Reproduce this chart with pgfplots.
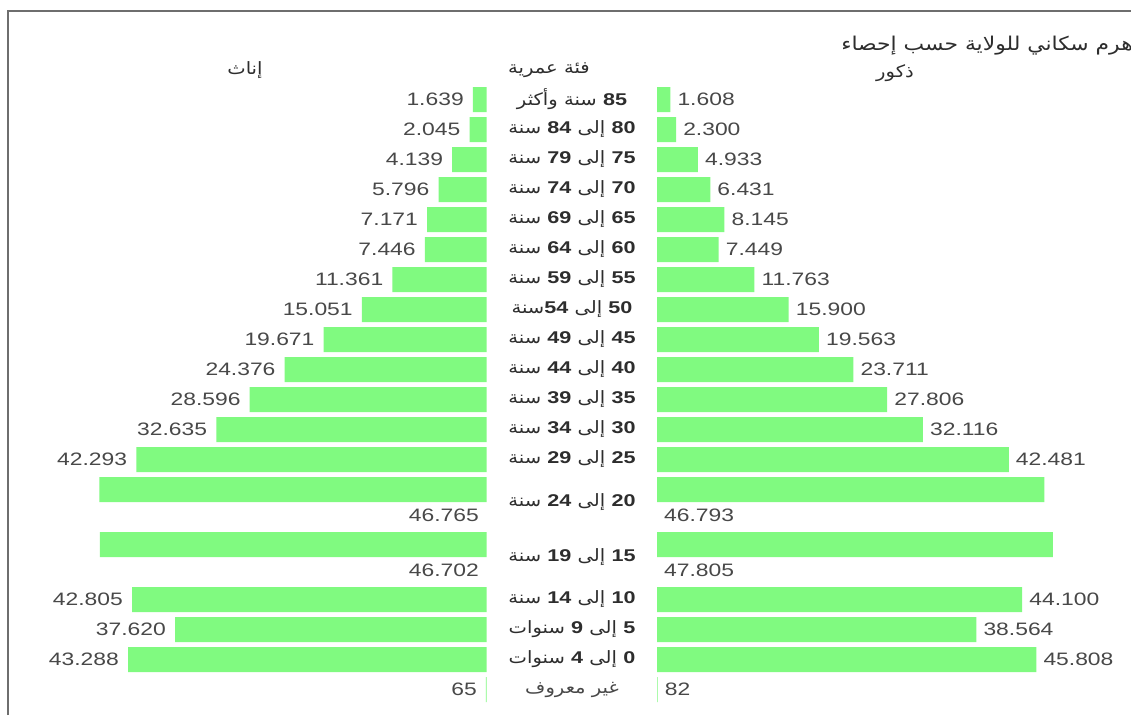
\documentclass[border=0pt]{standalone}
\usepackage{fontspec}
\setmainfont{Liberation Sans}[FakeStretch=1.27]
\newfontfamily\arabicfont[Script=Arabic, FakeStretch=1.15]{DejaVu Sans}
\TeXXeTstate=1
\usepackage{pgfplots}
\pgfplotsset{compat=1.18}
\definecolor{barg}{RGB}{128,250,128}
\definecolor{txt}{RGB}{72,72,72}
\definecolor{cat}{RGB}{45,45,45}
\definecolor{frame}{RGB}{110,110,110}
\newcommand{\ar}[1]{{\arabicfont\beginR #1\endR}}
\newcommand{\n}[1]{{\normalfont\bfseries #1}}
\newcommand{\valfont}{\fontsize{18}{18}\selectfont}
\pgfplotsset{
  valnodes/.style={
    nodes near coords={\pgfmathprintnumber[fixed,precision=0,1000 sep={.},assume math mode=true]{\pgfplotspointmeta}},
    every node near coord/.append style={inner sep=0pt, font=\valfont, text=txt}
  }
}
\begin{document}
\begin{tikzpicture}
\path[use as bounding box, fill=white] (0,0) rectangle (1131pt,715pt);
\draw[line width=2.5pt, frame] (8pt,0pt) -- (8pt,704pt) -- (1131pt,704pt);

% females
\begin{axis}[at={(486.5pt,715pt)}, anchor=north east, scale only axis,
  width=480.24pt, height=715pt, xmin=0, xmax=58000, ymin=0, ymax=715,
  x dir=reverse, y dir=reverse, hide axis, clip=false]
\addplot[xbar, bar shift=0pt, bar width=25, fill=barg, draw=none, point meta=x, valnodes,
  every node near coord/.append style={anchor=east, xshift=-9pt}]
  table[x index=0, y index=1] {
1639 99.5
2045 129.5
4139 159.5
5796 189.5
7171 219.5
7446 249.5
11361 279.5
15051 309.5
19671 339.5
24376 369.5
28596 399.5
32635 429.5
42293 459.5
42805 599.5
37620 629.5
43288 659.5
65 689.5
};
\addplot[xbar, bar shift=0pt, bar width=25, fill=barg, draw=none]
  table[x index=0, y index=1] {
46765 489.5
46702 544.5
};
\addplot[draw=none, point meta=explicit, valnodes,
  every node near coord/.append style={anchor=east, xshift=-7.5pt}]
  coordinates {(0,515) [46765] (0,570) [46702]};
\end{axis}

% males
\begin{axis}[at={(657pt,715pt)}, anchor=north west, scale only axis,
  width=474pt, height=715pt, xmin=0, xmax=57246, ymin=0, ymax=715,
  y dir=reverse, clip=false,
  axis line style={draw=none}, major tick style={draw=none}, xtick=\empty,
  ytick={99.5,129.5,159.5,189.5,219.5,249.5,279.5,309.5,339.5,369.5,399.5,429.5,459.5,502,557,599.5,629.5,659.5,689.5},
  yticklabels={
    {\ar{\n{85} سنة وأكثر}},
    {\ar{\n{80} إلى \n{84} سنة}},
    {\ar{\n{75} إلى \n{79} سنة}},
    {\ar{\n{70} إلى \n{74} سنة}},
    {\ar{\n{65} إلى \n{69} سنة}},
    {\ar{\n{60} إلى \n{64} سنة}},
    {\ar{\n{55} إلى \n{59} سنة}},
    {\ar{\n{50} إلى \n{54}سنة}},
    {\ar{\n{45} إلى \n{49} سنة}},
    {\ar{\n{40} إلى \n{44} سنة}},
    {\ar{\n{35} إلى \n{39} سنة}},
    {\ar{\n{30} إلى \n{34} سنة}},
    {\ar{\n{25} إلى \n{29} سنة}},
    {\ar{\n{20} إلى \n{24} سنة}},
    {\ar{\n{15} إلى \n{19} سنة}},
    {\ar{\n{10} إلى \n{14} سنة}},
    {\ar{\n{5} إلى \n{9} سنوات}},
    {\ar{\n{0} إلى \n{4} سنوات}},
    {\color{txt}\ar{غير معروف}}},
  yticklabel style={anchor=center, xshift=-85pt, font=\fontsize{17}{17}\selectfont, text=cat}]
\addplot[xbar, bar shift=0pt, bar width=25, fill=barg, draw=none, point meta=x, valnodes,
  every node near coord/.append style={anchor=west, xshift=7pt}]
  table[x index=0, y index=1] {
1608 99.5
2300 129.5
4933 159.5
6431 189.5
8145 219.5
7449 249.5
11763 279.5
15900 309.5
19563 339.5
23711 369.5
27806 399.5
32116 429.5
42481 459.5
44100 599.5
38564 629.5
45808 659.5
82 689.5
};
\addplot[xbar, bar shift=0pt, bar width=25, fill=barg, draw=none]
  table[x index=0, y index=1] {
46793 489.5
47805 544.5
};
\addplot[draw=none, point meta=explicit, valnodes,
  every node near coord/.append style={anchor=west, xshift=7pt}]
  coordinates {(0,515) [46793] (0,570) [47805]};
\end{axis}

\node[anchor=east, inner sep=0pt, text=cat, font=\fontsize{19}{19}\selectfont] at (1133pt,669pt) {\ar{هرم سكاني للولاية حسب إحصاء}};
\node[inner sep=0pt, text=cat, font=\fontsize{17}{17}\selectfont] at (895pt,642pt) {\ar{ذكور}};
\node[inner sep=0pt, text=cat, font=\fontsize{17}{17}\selectfont] at (549pt,645pt) {\ar{فئة عمرية}};
\node[inner sep=0pt, text=cat, font=\fontsize{17}{17}\selectfont] at (245pt,645pt) {\ar{إناث}};
\end{tikzpicture}
\end{document}
